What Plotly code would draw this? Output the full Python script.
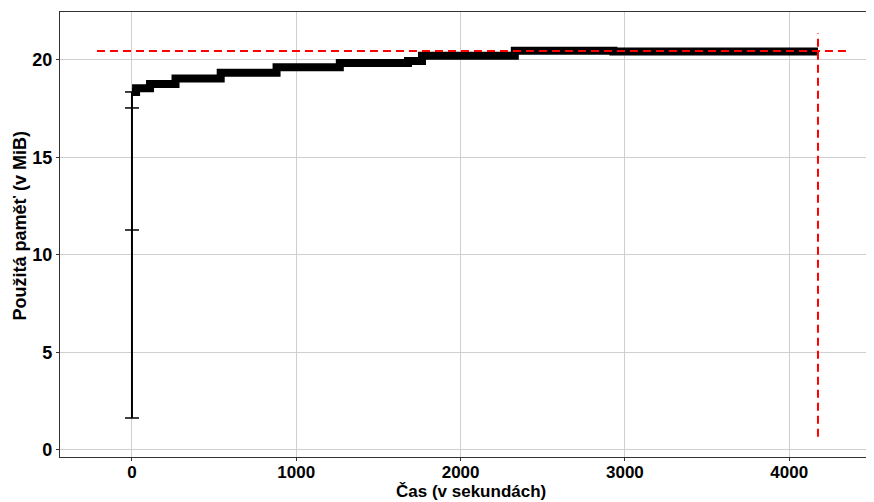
import plotly.graph_objects as go

# Step series (time in s, memory in MiB)
step_times = [0, 25, 110, 265, 540, 880, 1265, 1680, 1765, 2330, 2930, 4175]
step_values = [18.36, 18.55, 18.77, 19.05, 19.35, 19.63, 19.85, 19.95, 20.22, 20.47, 20.44, 20.44]

# Early samples at t = 0
start_times = [0, 0, 0, 0]
start_values = [1.64, 11.28, 17.54, 18.36]

# Reference lines
max_mem = 20.46
hline_x = [-213, 4358]
end_time = 4175
vline_y = [0.68, 21.37]

x_ticks = [0, 1000, 2000, 3000, 4000]
y_ticks = [0, 5, 10, 15, 20]

x_title = "Čas (v sekundách)"
y_title = "Použitá paměť (v MiB)"

fig = go.Figure()

fig.add_trace(go.Scatter(
    x=start_times, y=start_values, mode="lines+markers",
    line=dict(color="black", width=2),
    marker=dict(symbol="line-ew", size=10, line=dict(color="black", width=1.5)),
    showlegend=False, hoverinfo="skip"))

fig.add_trace(go.Scatter(
    x=step_times, y=step_values, mode="lines",
    line=dict(color="black", width=8, shape="hv"),
    showlegend=False))

fig.add_trace(go.Scatter(
    x=hline_x, y=[max_mem, max_mem], mode="lines",
    line=dict(color="red", width=2, dash="8px,5px"),
    showlegend=False))

fig.add_trace(go.Scatter(
    x=[end_time, end_time], y=vline_y, mode="lines",
    line=dict(color="red", width=2, dash="8px,5px"),
    showlegend=False))

axis_common = dict(
    showgrid=True, gridcolor="#cfcfcf", gridwidth=1.3,
    zeroline=False, showline=True, linecolor="#333333", linewidth=1.2,
    ticks="outside", ticklen=3, tickcolor="#333333", tickwidth=1.2,
    automargin=False,
)

# the page body has an 8px margin, so the figure is sized to fit the window
fig.update_layout(
    width=866, height=494,
    margin=dict(l=52, r=0, t=4, b=45, autoexpand=False),
    plot_bgcolor="white", paper_bgcolor="white",
    font=dict(family="Liberation Sans, Arial, sans-serif", color="black"),
    xaxis=dict(
        range=[-438, 4516], tickvals=x_ticks, ticktext=[str(v) for v in x_ticks],
        mirror=True, ticklabelstandoff=-4,
        tickfont=dict(size=17, weight="bold"),
        **axis_common),
    yaxis=dict(
        range=[-0.36, 22.46], tickvals=y_ticks, ticktext=[str(v) for v in y_ticks],
        tickfont=dict(size=18, weight="bold"),
        **axis_common),
    annotations=[
        dict(text=x_title, xref="paper", yref="paper", x=0.505, y=0,
             xanchor="center", yanchor="middle", yshift=-34, showarrow=False,
             font=dict(size=17, weight="bold")),
        dict(text=y_title, xref="paper", yref="paper", x=0, y=0.52,
             xanchor="center", yanchor="middle", xshift=-40, textangle=-90,
             showarrow=False, font=dict(size=18, weight="bold")),
    ],
)

fig.write_html("out.html")
